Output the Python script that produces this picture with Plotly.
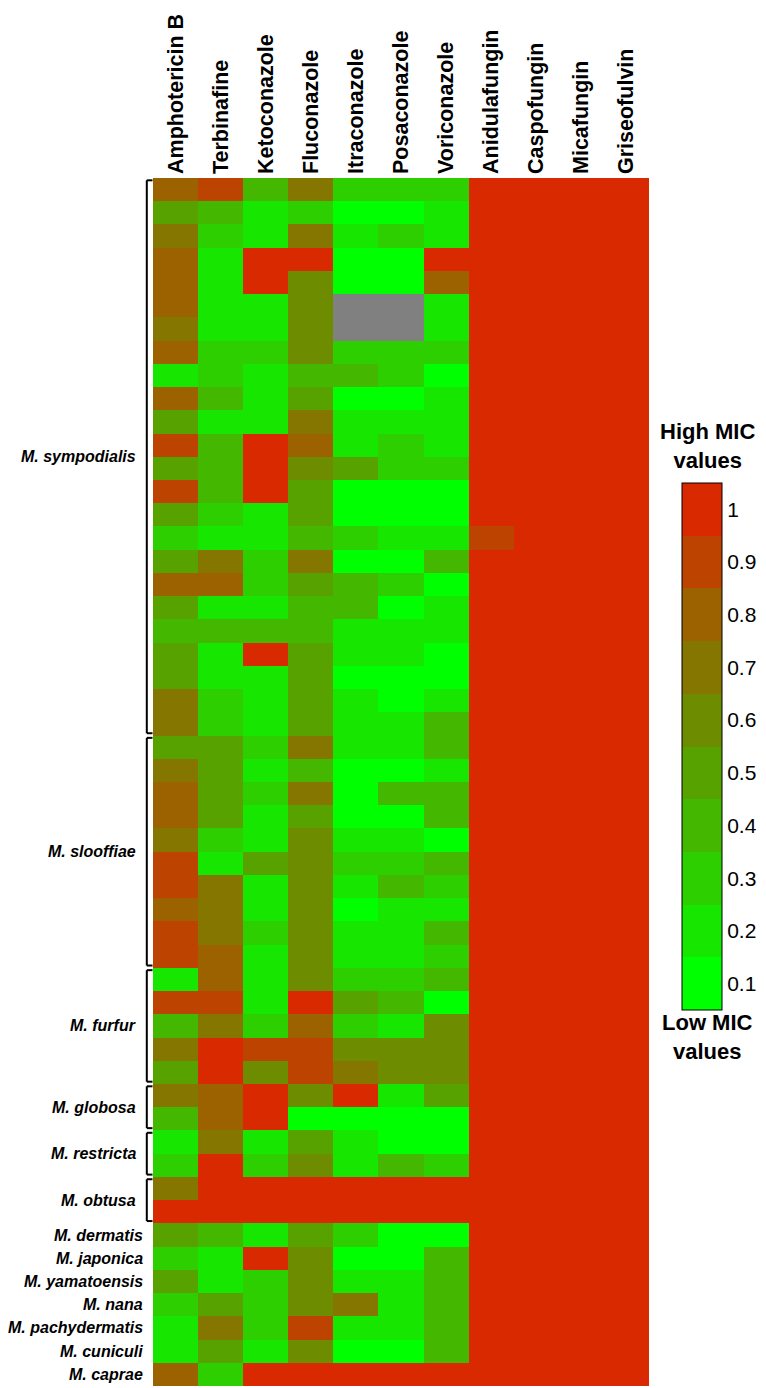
"""
MIC heatmap of Malassezia isolates vs antifungal drugs
"""

import plotly.graph_objects as go

# drugs (columns)
drugs = ['Amphotericin B', 'Terbinafine', 'Ketoconazole', 'Fluconazole', 'Itraconazole',
         'Posaconazole', 'Voriconazole', 'Anidulafungin', 'Caspofungin', 'Micafungin',
         'Griseofulvin']

# species groups, top to bottom, and how many isolates (rows) each has
group_names = ['M. sympodialis', 'M. slooffiae', 'M. furfur', 'M. globosa', 'M. restricta',
               'M. obtusa', 'M. dermatis', 'M. japonica', 'M. yamatoensis', 'M. nana',
               'M. pachydermatis', 'M. cuniculi', 'M. caprae']
group_sizes = [24, 10, 5, 2, 2, 2, 1, 1, 1, 1, 1, 1, 1]

N = None  # not tested (grey)

# normalised MIC per isolate, one list per drug (rows top to bottom)
amphotericin_b = [0.8, 0.5, 0.7, 0.8, 0.8, 0.8, 0.7, 0.8, 0.2, 0.8, 0.5, 0.9, 0.5, 0.9, 0.5, 0.3,
                  0.5, 0.8, 0.5, 0.4, 0.5, 0.5, 0.7, 0.7,
                  0.5, 0.7, 0.8, 0.8, 0.7, 0.9, 0.9, 0.8, 0.9, 0.9,
                  0.2, 0.9, 0.4, 0.7, 0.5,
                  0.7, 0.4, 0.2, 0.3, 0.7, 1.0,
                  0.5, 0.3, 0.5, 0.3, 0.2, 0.2, 0.8]
terbinafine = [0.9, 0.4, 0.3, 0.2, 0.2, 0.2, 0.2, 0.3, 0.3, 0.4, 0.2, 0.4, 0.4, 0.4, 0.3, 0.2,
               0.7, 0.8, 0.2, 0.4, 0.2, 0.2, 0.3, 0.3,
               0.5, 0.5, 0.5, 0.5, 0.3, 0.2, 0.7, 0.7, 0.7, 0.8,
               0.8, 0.9, 0.7, 1.0, 1.0,
               0.8, 0.8, 0.7, 1.0, 1.0, 1.0,
               0.4, 0.2, 0.2, 0.5, 0.7, 0.5, 0.3]
ketoconazole = [0.4, 0.2, 0.2, 1.0, 1.0, 0.2, 0.2, 0.3, 0.2, 0.2, 0.2, 1.0, 1.0, 1.0, 0.2, 0.2,
                0.3, 0.3, 0.2, 0.4, 1.0, 0.2, 0.2, 0.2,
                0.3, 0.2, 0.3, 0.2, 0.2, 0.5, 0.2, 0.2, 0.3, 0.2,
                0.2, 0.2, 0.3, 0.9, 0.6,
                1.0, 1.0, 0.2, 0.3, 1.0, 1.0,
                0.2, 1.0, 0.3, 0.3, 0.3, 0.2, 1.0]
fluconazole = [0.7, 0.3, 0.7, 1.0, 0.6, 0.6, 0.6, 0.6, 0.4, 0.5, 0.7, 0.8, 0.6, 0.5, 0.5, 0.4,
               0.7, 0.5, 0.4, 0.4, 0.5, 0.5, 0.5, 0.5,
               0.7, 0.4, 0.7, 0.5, 0.6, 0.6, 0.6, 0.6, 0.6, 0.6,
               0.6, 1.0, 0.8, 0.9, 0.9,
               0.6, 0.1, 0.5, 0.6, 1.0, 1.0,
               0.5, 0.6, 0.6, 0.6, 0.9, 0.6, 1.0]
itraconazole = [0.3, 0.1, 0.2, 0.1, 0.1, N, N, 0.3, 0.4, 0.1, 0.2, 0.2, 0.5, 0.1, 0.1, 0.3,
                0.1, 0.4, 0.4, 0.2, 0.2, 0.1, 0.2, 0.2,
                0.2, 0.1, 0.1, 0.1, 0.2, 0.3, 0.2, 0.1, 0.2, 0.2,
                0.3, 0.5, 0.3, 0.6, 0.7,
                1.0, 0.1, 0.2, 0.2, 1.0, 1.0,
                0.3, 0.1, 0.2, 0.7, 0.2, 0.1, 1.0]
posaconazole = [0.3, 0.1, 0.3, 0.1, 0.1, N, N, 0.3, 0.3, 0.1, 0.2, 0.3, 0.3, 0.1, 0.1, 0.2,
                0.1, 0.3, 0.1, 0.2, 0.2, 0.1, 0.1, 0.2,
                0.2, 0.1, 0.4, 0.1, 0.2, 0.3, 0.4, 0.2, 0.2, 0.2,
                0.3, 0.4, 0.2, 0.6, 0.6,
                0.2, 0.1, 0.1, 0.4, 1.0, 1.0,
                0.1, 0.1, 0.2, 0.2, 0.2, 0.1, 1.0]
voriconazole = [0.3, 0.2, 0.2, 1.0, 0.8, 0.2, 0.2, 0.3, 0.1, 0.2, 0.2, 0.2, 0.3, 0.1, 0.1, 0.2,
                0.4, 0.1, 0.2, 0.2, 0.1, 0.1, 0.2, 0.4,
                0.4, 0.2, 0.4, 0.4, 0.1, 0.4, 0.3, 0.2, 0.4, 0.3,
                0.4, 0.1, 0.6, 0.6, 0.6,
                0.5, 0.1, 0.1, 0.3, 1.0, 1.0,
                0.1, 0.4, 0.4, 0.4, 0.4, 0.4, 1.0]
anidulafungin = [1.0] * 15 + [0.9] + [1.0] * 36
caspofungin = [1.0] * 52
micafungin = [1.0] * 52
griseofulvin = [1.0] * 52

# colorbar bands, 0.1 (bottom) .. 1 (top)
band_values = [0.1, 0.2, 0.3, 0.4, 0.5, 0.6, 0.7, 0.8, 0.9, 1.0]
band_labels = ['0.1', '0.2', '0.3', '0.4', '0.5', '0.6', '0.7', '0.8', '0.9', '1']
band_colors = ['#00ff00', '#16e600', '#2dcf00', '#44b800', '#58a200', '#6d8c00',
               '#857600', '#9c6200', '#bc4400', '#d92900']

FONT = 'Liberation Sans, Arial, sans-serif'


def main():
    columns = [amphotericin_b, terbinafine, ketoconazole, fluconazole, itraconazole,
               posaconazole, voriconazole, anidulafungin, caspofungin, micafungin, griseofulvin]
    n_rows = sum(group_sizes)
    z = [[col[r] for col in columns] for r in range(n_rows)]

    # stepped colour scale
    scale = []
    for i, c in enumerate(band_colors):
        scale.append([i / len(band_colors), c])
        scale.append([(i + 1) / len(band_colors), c])

    fig = go.Figure()
    fig.add_trace(go.Heatmap(
        z=z, x=list(range(len(drugs))), y=list(range(n_rows)),
        colorscale=scale, zmin=0.05, zmax=1.05, hoverongaps=False,
        colorbar=dict(
            thickness=40, thicknessmode='pixels', len=527, lenmode='pixels',
            x=1.0665, xanchor='left', y=0.5294, yanchor='middle', xpad=0, ypad=0,
            outlinewidth=1, outlinecolor='black', ticks='',
            tickvals=band_values, ticktext=band_labels,
            tickfont=dict(family=FONT, size=21, color='black'),
        ),
    ))

    # species labels + brackets
    start = 0
    for name, size in zip(group_names, group_sizes):
        top = start - 0.5
        bottom = start + size - 0.5
        mid = (top + bottom) / 2
        if size > 1:
            y0, y1 = top + 0.1, bottom - 0.1
            bx = -0.0125
            line = dict(color='black', width=2)
            fig.add_shape(type='line', xref='paper', yref='y', x0=bx, x1=bx, y0=y0, y1=y1, line=line)
            fig.add_shape(type='line', xref='paper', yref='y', x0=bx, x1=-0.001, y0=y0, y1=y0, line=line)
            fig.add_shape(type='line', xref='paper', yref='y', x0=bx, x1=-0.001, y0=y1, y1=y1, line=line)
            lx = -0.03
        else:
            lx = -0.017
        fig.add_annotation(
            text=name, xref='paper', yref='y', x=lx, y=mid, xanchor='right', yanchor='middle',
            showarrow=False,
            font=dict(family=FONT, size=16, color='black', weight='bold', style='italic'))
        start += size

    title_font = dict(family=FONT, size=22, color='black', weight='bold')
    fig.add_annotation(text='High MIC<br>values', xref='paper', yref='paper', x=1.117, y=0.778,
                       xanchor='center', yanchor='middle', showarrow=False, font=title_font)
    fig.add_annotation(text='Low MIC<br>values', xref='paper', yref='paper', x=1.117, y=0.289,
                       xanchor='center', yanchor='middle', showarrow=False, font=title_font)

    fig.update_xaxes(
        side='top', tickvals=list(range(len(drugs))), ticktext=drugs, tickangle=-90,
        tickfont=dict(family=FONT, size=21.5, color='black', weight='bold'),
        ticklabelstandoff=3,
        range=[-0.5, len(drugs) - 0.5], showgrid=False, zeroline=False, ticks='',
        automargin=False, fixedrange=True)
    fig.update_yaxes(
        range=[n_rows - 0.5, -0.5], showticklabels=False, showgrid=False, zeroline=False,
        ticks='', automargin=False, fixedrange=True)
    # page body keeps its 8px margin, so the figure is 8px smaller than the window
    fig.update_layout(
        width=758, height=1380,
        margin=dict(l=145, r=117, t=170, b=2, pad=0),
        plot_bgcolor='#808080', paper_bgcolor='white',
        font=dict(family=FONT, color='black'),
        showlegend=False,
    )
    fig.write_html('out.html')


if __name__ == '__main__':
    main()
